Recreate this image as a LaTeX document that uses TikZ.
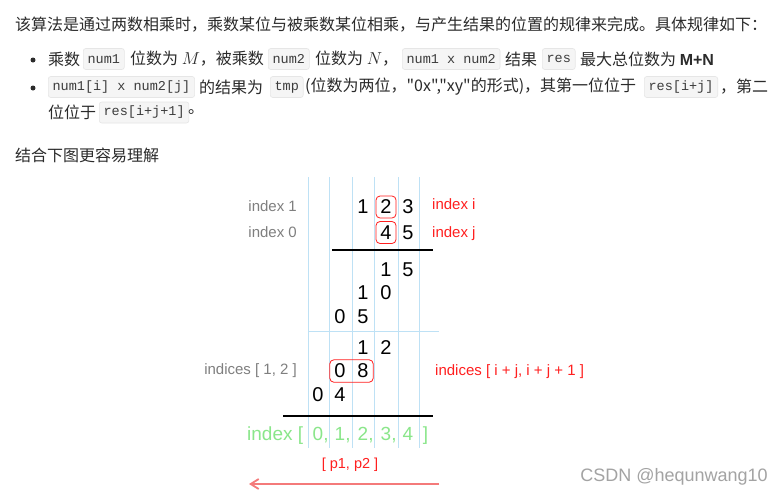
\documentclass[tikz,border=0pt]{standalone}
\usepackage{fontspec}
\setmainfont{Liberation Sans}
\setmonofont{Liberation Mono}
\newfontfamily\cjk{Noto Sans CJK SC}
\usetikzlibrary{arrows.meta,positioning,fit}
\definecolor{txDark} {HTML}{2B2B2B}
\definecolor{cdFill} {HTML}{F5F5F5}
\definecolor{cdLine} {HTML}{E6E6E6}
\definecolor{cdText} {HTML}{3C3C3C}
\definecolor{gdBlue} {HTML}{BEE1F5}
\definecolor{lbGray} {HTML}{7F7F7F}
\definecolor{lbRed}  {HTML}{FF1F1F}
\definecolor{ixGreen}{HTML}{8AE68A}
\definecolor{arRed}  {HTML}{F47A7A}
\definecolor{wmGray} {HTML}{A3A3A3}

\begin{document}
\begin{tikzpicture}[x=1pt,y=-1pt,
          t/.style={anchor=west,inner sep=0,text=txDark,font=\cjk\fontsize{16pt}{19pt}\selectfont},
          cd/.style={anchor=west,inner xsep=4.3pt,inner ysep=0,minimum height=21pt,rounded corners=2.5pt,
            fill=cdFill,draw=cdLine,line width=0.6pt,text=cdText,font=\ttfamily\fontsize{13.5pt}{16pt}\selectfont},
          dot/.style={circle,fill=txDark,inner sep=0,minimum size=5pt},
          d/.style={minimum width=20pt,minimum height=22pt,inner sep=0,font=\fontsize{20pt}{24pt}\selectfont},
          hl/.style={draw=lbRed,rounded corners=4pt,line width=0.8pt},
          gl/.style={anchor=base east,inner sep=0,text=lbGray,font=\fontsize{15pt}{18pt}\selectfont},
          rl/.style={anchor=base west,inner sep=0,text=lbRed,font=\fontsize{15pt}{18pt}\selectfont},
          gi/.style={anchor=base,inner sep=0,text=ixGreen,font=\fontsize{19pt}{23pt}\selectfont},
          grid/.style={gdBlue,line width=0.8pt},
          rule/.style={black,line width=1.3pt},
          e/.style={-{Straight Barb[length=8pt,width=10pt]},arRed,line width=1.8pt}]
        \useasboundingbox[fill=white] (0,0) rectangle (784,496);

        % text above the picture
        \node[t] (l1) at (15,25) {该算法是通过两数相乘时，乘数某位与被乘数某位相乘，与产生结果的位置的规律来完成。具体规律如下：};
        \node[dot] (b1) at (33,60) {};
        \node[t] (l2a) at (48,59) {乘数};
        \node[cd] (l2b) at (83,59) {num1};
        \node[t] (l2c) at (130,59) {位数为 $M$，被乘数};
        \node[cd] (l2d) at (268,59) {num2};
        \node[t] (l2e) at (315,59) {位数为 $N$，};
        \node[cd] (l2f) at (402,59) {num1 x num2};
        \node[t] (l2g) at (505,59) {结果};
        \node[cd] (l2h) at (542,59) {res};
        \node[t] (l2i) at (580,59) {最大总位数为 {\rmfamily\bfseries M+N}};
        \node[dot] (b2) at (33,88) {};
        \node[cd] (l3a) at (48,87) {num1[i] x num2[j]};
        \node[t] (l3b) at (199,87) {的结果为};
        \node[cd] (l3c) at (270,87) {tmp};
        \node[t] (l3d) at (305,87) {(位数为两位，"0x","xy"的形式)，其第一位位于};
        \node[cd] (l3e) at (644,87) {res[i+j]};
        \node[t] (l3f) at (720,87) {，第二};
        \node[t] (l4a) at (48,112.5) {位位于};
        \node[cd] (l4b) at (99,112.5) {res[i+j+1]};
        \node[t] (l4c) at (188,112.5) {。};
        \node[t] (l5) at (15,155.5) {结合下图更容易理解};

        % columns and rules
        \foreach \x in {308,329,352,374,398,419} \draw[grid] (\x,177) -- (\x,448);
        \draw[grid] (308,331) -- (439,331);
        \draw[rule] (332,250) -- (433,250);
        \draw[rule] (283,416) -- (433,416);

        % digits
        \node[d] (r1c2) at (363,207) {1}; \node[d,hl] (r1c3) at (386,207) {2}; \node[d] (r1c4) at (408,207) {3};
        \node[d,hl] (r2c3) at (386,232.5) {4}; \node[d] (r2c4) at (408,232.5) {5};
        \node[d] (r3c3) at (386,270) {1}; \node[d] (r3c4) at (408,270) {5};
        \node[d] (r4c2) at (363,293) {1}; \node[d] (r4c3) at (386,293) {0};
        \node[d] (r5c1) at (340,317) {0}; \node[d] (r5c2) at (363,317) {5};
        \node[d] (r6c2) at (363,348) {1}; \node[d] (r6c3) at (386,348) {2};
        \node[d] (r7c1) at (340,371) {0}; \node[d] (r7c2) at (363,371) {8};
        \node[d] (r8c0) at (318,395) {0}; \node[d] (r8c1) at (340,395) {4};
        \node[hl,fit=(r7c1)(r7c2),inner sep=0] (r7box) {};

        % labels
        \node[gl] (gi1) at (297,211.5) {index 1};
        \node[gl] (gi0) at (297,237.5) {index 0};
        \node[gl] (gix) at (297,374) {indices [ 1, 2 ]};
        \node[rl] (ri) at (432,209) {index i};
        \node[rl] (rj) at (432,237) {index j};
        \node[rl] (rix) at (435,375) {indices [ i + j, i + j + 1 ]};

        \node[gi,anchor=base west] (ixl) at (247,440) {index [};
        \node[gi] (ix0) at (318,440) {0\rlap{,}}; \node[gi] (ix1) at (340,440) {1\rlap{,}};
        \node[gi] (ix2) at (363,440) {2\rlap{,}}; \node[gi] (ix3) at (386,440) {3\rlap{,}};
        \node[gi] (ix4) at (408,440) {4}; \node[gi] (ixr) at (425.5,440) {]};

        \node[rl,anchor=base,font=\fontsize{14.5pt}{17pt}\selectfont] (pp) at (350,468) {[ p1, p2 ]};
        \coordinate (arS) at (439,484); \coordinate (arE) at (249,484);
        \draw[e] (arS) -- (arE);

        \node[anchor=base east,inner sep=0,text=wmGray,font=\fontsize{18pt}{21pt}\selectfont] (wm) at (768,481.5) {CSDN @hequnwang10};
      \end{tikzpicture}
\end{document}
